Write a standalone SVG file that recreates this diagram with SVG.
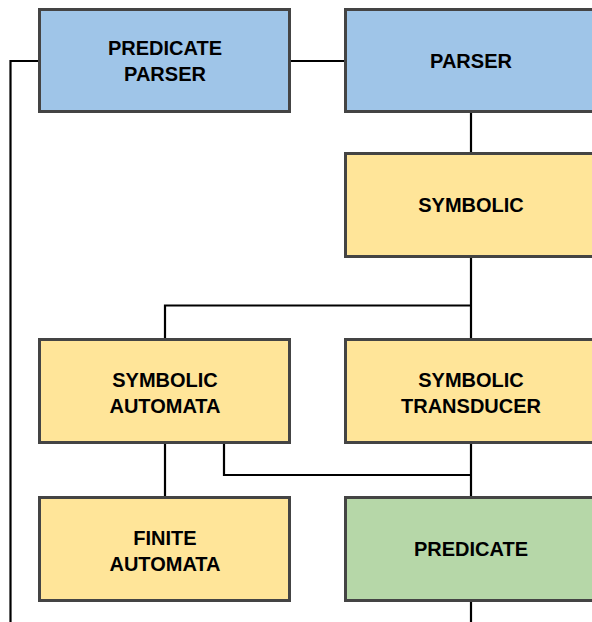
<svg xmlns="http://www.w3.org/2000/svg" width="592" height="622" viewBox="0 0 592 622">
  <style>
    .box { stroke: #444444; stroke-width: 3; }
    .blue { fill: #9fc5e8; }
    .yellow { fill: #ffe599; }
    .green { fill: #b6d7a8; }
    .label { font-family: "Liberation Sans", Arial, sans-serif; font-weight: bold; font-size: 20px; fill: #000; text-anchor: middle; }
    .wire { fill: none; stroke: #000; stroke-width: 2.2; }
  </style>
  <rect width="592" height="622" fill="#ffffff"/>

  <g id="connectors">
    <polyline class="wire" points="39,61 10.5,61 10.5,622"/>
    <line class="wire" x1="290" y1="61" x2="346" y2="61"/>
    <line class="wire" x1="471" y1="112" x2="471" y2="153"/>
    <line class="wire" x1="471" y1="257" x2="471" y2="339"/>
    <polyline class="wire" points="471,305.5 165,305.5 165,339"/>
    <line class="wire" x1="165" y1="443" x2="165" y2="497"/>
    <polyline class="wire" points="224,443 224,475 471,475"/>
    <line class="wire" x1="471" y1="443" x2="471" y2="497"/>
    <line class="wire" x1="471" y1="602" x2="471" y2="622"/>
  </g>

  <g id="predicate-parser">
    <rect class="box blue" x="39.5" y="9.5" width="250" height="102"/>
    <text class="label" x="165" y="55">PREDICATE</text>
    <text class="label" x="165" y="81">PARSER</text>
  </g>

  <g id="parser">
    <rect class="box blue" x="345.5" y="9.5" width="251" height="102"/>
    <text class="label" x="471" y="68">PARSER</text>
  </g>

  <g id="symbolic">
    <rect class="box yellow" x="345.5" y="153.5" width="251" height="103"/>
    <text class="label" x="471" y="212">SYMBOLIC</text>
  </g>

  <g id="symbolic-automata">
    <rect class="box yellow" x="39.5" y="339.5" width="250" height="103"/>
    <text class="label" x="165" y="387">SYMBOLIC</text>
    <text class="label" x="165" y="413">AUTOMATA</text>
  </g>

  <g id="symbolic-transducer">
    <rect class="box yellow" x="345.5" y="339.5" width="251" height="103"/>
    <text class="label" x="471" y="387">SYMBOLIC</text>
    <text class="label" x="471" y="413">TRANSDUCER</text>
  </g>

  <g id="finite-automata">
    <rect class="box yellow" x="39.5" y="497.5" width="250" height="103"/>
    <text class="label" x="165" y="545">FINITE</text>
    <text class="label" x="165" y="571">AUTOMATA</text>
  </g>

  <g id="predicate">
    <rect class="box green" x="345.5" y="497.5" width="251" height="103"/>
    <text class="label" x="471" y="556">PREDICATE</text>
  </g>
</svg>
